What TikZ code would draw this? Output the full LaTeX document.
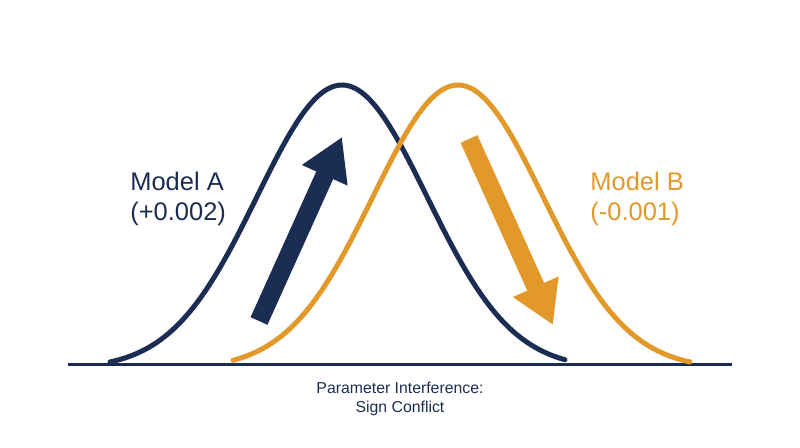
\documentclass[tikz,border=0pt]{standalone}
\usepackage{fontspec}
\setmainfont{Liberation Sans}
\usetikzlibrary{arrows.meta}
\definecolor{modelnavy}{RGB}{27,45,82}
\definecolor{modelorange}{RGB}{226,153,42}

\tikzset{
  bell/.style={line width=0.1cm, line cap=round},
  shift arrow/.style={line width=0.37cm, -{Triangle[length=0.84cm,width=0.94cm]}},
  modellabel/.style={align=left, inner sep=0pt, anchor=west, font=\fontsize{14.5}{17.1}\selectfont}
}

\begin{document}
\begin{tikzpicture}
\useasboundingbox (0,0) rectangle (16,8.94);

% baseline of the two bells
\coordinate (axisL) at (1.36,1.66);
\coordinate (axisR) at (14.64,1.66);
\draw[modelnavy, line width=0.06cm] (axisL) -- (axisR);

% bells, pulled down so that the tails sit on the baseline
\draw[bell,modelnavy] plot[domain=2.2:11.3, samples=120, smooth] (\x, {1.70+5.54*(exp(-((\x-6.84)^2)/(2*1.7*1.7))-0.024)/0.976});
\draw[bell,modelorange] plot[domain=4.66:13.8, samples=120, smooth] (\x, {1.70+5.54*(exp(-((\x-9.16)^2)/(2*1.7*1.7))-0.024)/0.976});

% update directions
\coordinate (aTail) at (5.18,2.52);
\coordinate (aTip) at (6.84,6.2);
\coordinate (bTail) at (9.38,6.16);
\coordinate (bTip) at (11.06,2.44);
\draw[shift arrow,modelnavy] (aTail) -- (aTip);
\draw[shift arrow,modelorange] (bTail) -- (bTip);

\node[modellabel,modelnavy] (labelA) at (2.6,4.96) {Model A\\(+0.002)};
\node[modellabel,modelorange] (labelB) at (11.8,4.96) {Model B\\(-0.001)};

\node[align=center, inner sep=0pt, modelnavy, font=\fontsize{9}{10.8}\selectfont] (caption) at (8,0.97) {Parameter Interference:\\Sign Conflict};

\end{tikzpicture}
\end{document}
